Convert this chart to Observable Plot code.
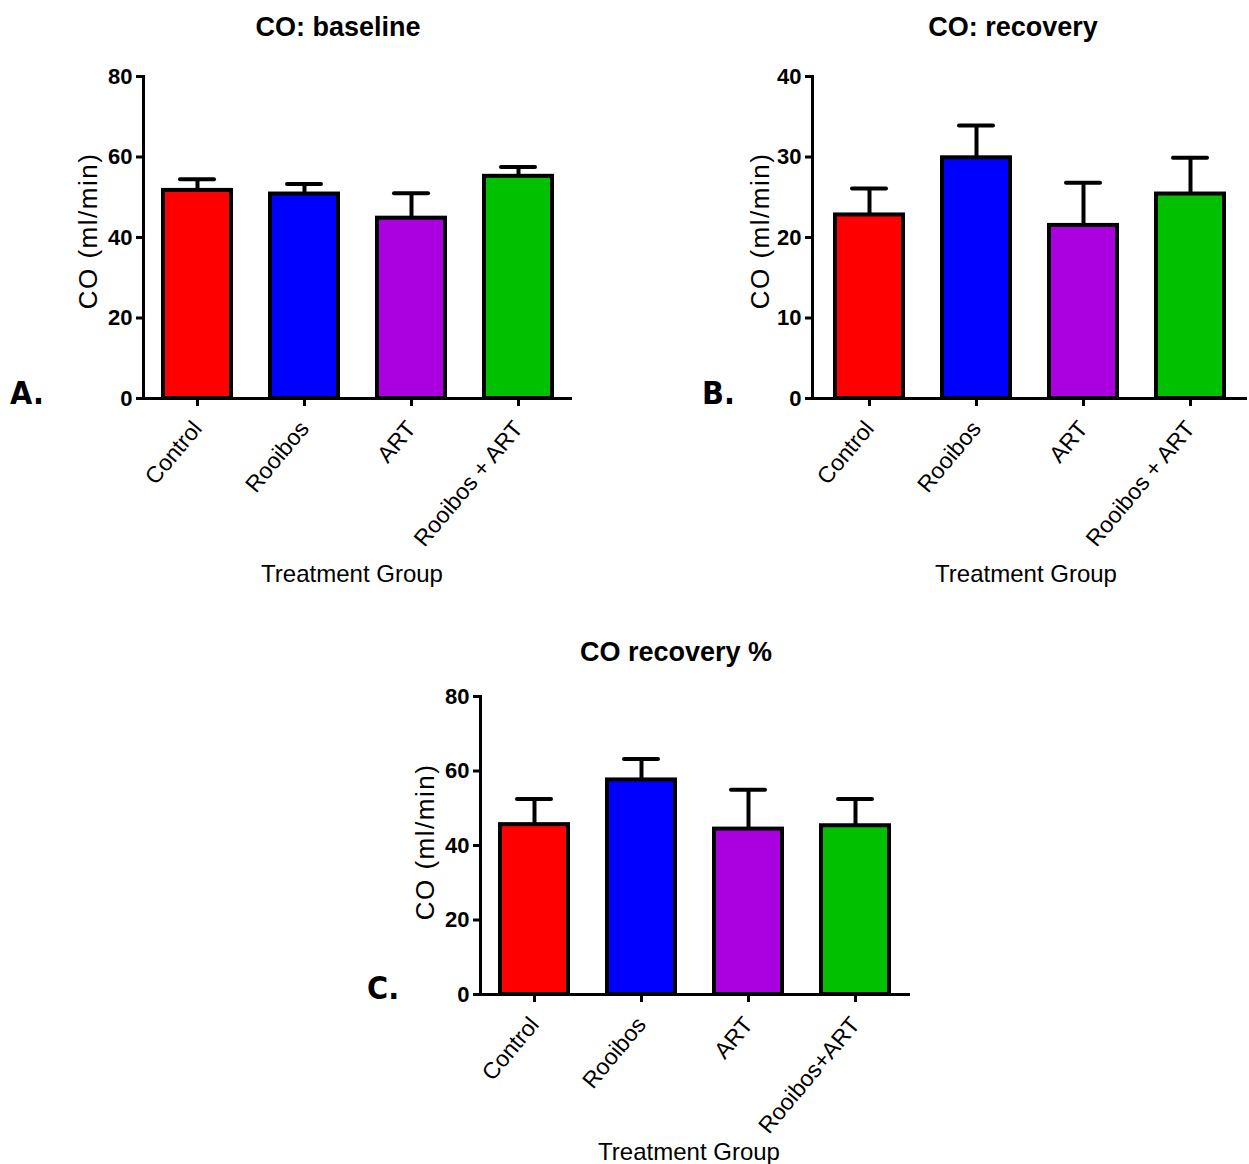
<!DOCTYPE html>
<html>
<head>
<meta charset="utf-8">
<script src="https://cdn.jsdelivr.net/npm/d3@7"></script>
<script src="https://cdn.jsdelivr.net/npm/@observablehq/plot@0.6"></script>
<style>
  html, body { margin: 0; padding: 0; background: #fff; }
  #root { position: relative; width: 1249px; height: 1164px; overflow: hidden; font-family: "Liberation Sans", Arial, sans-serif; color: #000; }
  .abs { position: absolute; white-space: nowrap; line-height: 1; }
  .title { font-weight: bold; font-size: 27px; transform: translateX(-50%); }
  .xtitle { font-size: 24px; transform: translateX(-50%); }
  .ytitle { font-size: 26px; letter-spacing: 1.5px; transform: translate(-50%, -50%) rotate(-90deg); }
  .letter { font-family: "Liberation Sans Narrow", "DejaVu Sans Condensed", "Liberation Sans", sans-serif; font-weight: bold; font-size: 32px; }
  .panel { position: absolute; }
  .panel svg { overflow: visible; }
</style>
</head>
<body>
<div id="root"></div>
<script>
// ---- data ----
const groupsAB = ["Control", "Rooibos", "ART", "Rooibos + ART"];
const groupsC = ["Control", "Rooibos", "ART", "Rooibos+ART"];

const baselineMean = [51.7, 50.8, 44.8, 55.2];
const baselineSem = [2.8, 2.5, 6.2, 2.3];

const recoveryMean = [22.8, 29.9, 21.5, 25.4];
const recoverySem = [3.3, 4.0, 5.3, 4.5];

const pctMean = [45.6, 57.6, 44.4, 45.3];
const pctSem = [6.9, 5.6, 10.6, 7.2];

const ticksAC = [0, 20, 40, 60, 80];
const ticksB = [0, 10, 20, 30, 40];

const barColors = ["#ff0000", "#0000ff", "#aa00e0", "#00c000"];

const root = document.getElementById("root");

function addText(cls, text, style) {
  const d = document.createElement("div");
  d.className = "abs " + cls;
  d.textContent = text;
  Object.assign(d.style, style);
  root.appendChild(d);
}

function panel({groups, mean, sem, yMax, yTicks, left, top, width, height, margins, paddingOuter}) {
  const data = groups.map((g, i) => ({group: g, mean: mean[i], top: mean[i] + sem[i]}));
  const chart = Plot.plot({
    width, height,
    marginLeft: margins[0], marginRight: margins[1], marginTop: margins[2], marginBottom: margins[3],
    style: {fontFamily: "'Liberation Sans', Arial, sans-serif", color: "#000", overflow: "visible", background: "transparent"},
    x: {domain: groups, paddingInner: 0.36, paddingOuter, label: null},
    y: {domain: [0, yMax], label: null},
    color: {domain: groups, range: barColors},
    marks: [
      Plot.ruleX(data, {x: "group", y1: "mean", y2: "top", stroke: "#000", strokeWidth: 4}),
      Plot.tickY(data, {x: "group", y: "top", stroke: "#000", strokeWidth: 4, strokeLinecap: "round", insetLeft: 17, insetRight: 17}),
      Plot.barY(data, {x: "group", y: "mean", fill: "group", stroke: "#000", strokeWidth: 4}),
      Plot.frame({anchor: "left", stroke: "#000", strokeWidth: 3}),
      Plot.ruleY([0], {stroke: "#000", strokeWidth: 3}),
      Plot.axisY({ticks: yTicks, tickSize: 7, tickPadding: 4, fontSize: 22, fontWeight: "bold", strokeWidth: 3, label: null, tickFormat: d => String(d)}),
      Plot.axisX({tickSize: 8, tickPadding: 18, tickRotate: -50, fontSize: 23, strokeWidth: 3, label: null})
    ]
  });
  const wrap = document.createElement("div");
  wrap.className = "panel";
  wrap.style.left = left + "px";
  wrap.style.top = top + "px";
  wrap.appendChild(chart);
  root.appendChild(wrap);
}

// Panel A
panel({groups: groupsAB, mean: baselineMean, sem: baselineSem, yMax: 80, yTicks: ticksAC,
  left: 0, top: 0, width: 600, height: 600, margins: [143, 28, 76, 202], paddingOuter: 0.18});
// Panel B
panel({groups: groupsAB, mean: recoveryMean, sem: recoverySem, yMax: 40, yTicks: ticksB,
  left: 660, top: 0, width: 589, height: 600, margins: [152, 2, 76, 202], paddingOuter: 0.2});
// Panel C
panel({groups: groupsC, mean: pctMean, sem: pctSem, yMax: 80, yTicks: ticksAC,
  left: 340, top: 620, width: 600, height: 544, margins: [140, 30, 76, 170], paddingOuter: 0.18});

// Titles
addText("title", "CO: baseline", {left: "338px", top: "14px"});
addText("title", "CO: recovery", {left: "1013px", top: "14px"});
addText("title", "CO recovery %", {left: "676px", top: "639px"});

// Axis titles
addText("xtitle", "Treatment Group", {left: "352px", top: "562px"});
addText("xtitle", "Treatment Group", {left: "1026px", top: "562px"});
addText("xtitle", "Treatment Group", {left: "689px", top: "1140px"});

addText("ytitle", "CO (ml/min)", {left: "88px", top: "231px"});
addText("ytitle", "CO (ml/min)", {left: "760px", top: "231px"});
addText("ytitle", "CO (ml/min)", {left: "425px", top: "842px"});

// Panel letters
addText("letter", "A.", {left: "10px", top: "377px"});
addText("letter", "B.", {left: "702px", top: "377px"});
addText("letter", "C.", {left: "367px", top: "972px"});
</script>
</body>
</html>
